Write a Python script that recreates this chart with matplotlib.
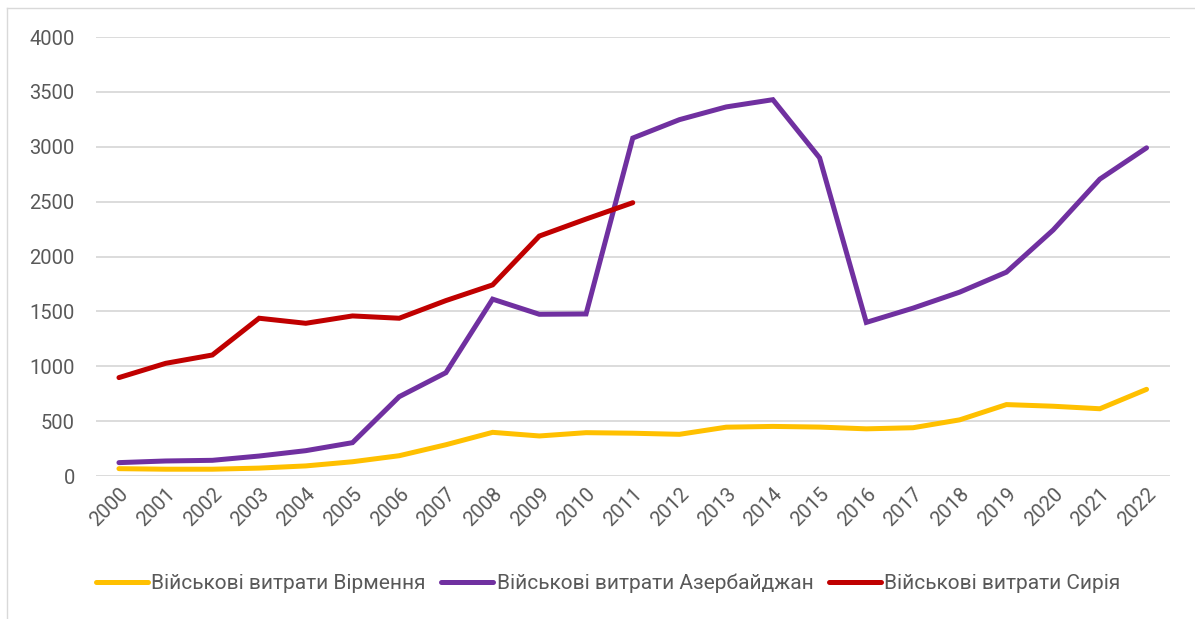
import matplotlib
matplotlib.use("Agg")
import matplotlib.pyplot as plt
from matplotlib.lines import Line2D

years = [str(y) for y in range(2000, 2023)]
armenia = [67, 62, 62, 72, 92, 130, 185, 285, 398, 365, 395, 390, 380, 445, 452, 446, 430, 440, 512, 651, 636, 613, 790]
azerbaijan = [122, 137, 143, 182, 231, 304, 723, 942, 1612, 1474, 1477, 3080, 3248, 3364, 3430, 2900, 1400, 1530, 1676, 1858, 2242, 2706, 2991]
syria = [897, 1027, 1103, 1438, 1392, 1459, 1438, 1599, 1742, 2187, 2342, 2491]
labels = ["Військові витрати Вірмення", "Військові витрати Азербайджан", "Військові витрати Сирія"]
yticks = [0, 500, 1000, 1500, 2000, 2500, 3000, 3500, 4000]

plt.rcParams['font.family'] = ['Roboto', 'DejaVu Sans']
W, H = 1195, 619
fig = plt.figure(figsize=(W / 100, H / 100), dpi=100)
ax = fig.add_axes([0.080, 0.231, 0.899, 0.709])

x = list(range(len(years)))
lw = 3.6
ax.plot(x, armenia, color='#FFC000', lw=lw, solid_capstyle='round', solid_joinstyle='miter', label=labels[0], zorder=3)
ax.plot(x, azerbaijan, color='#7030A0', lw=lw, solid_capstyle='round', solid_joinstyle='miter', label=labels[1], zorder=3)
ax.plot(x[:len(syria)], syria, color='#C00000', lw=lw, solid_capstyle='round', solid_joinstyle='miter', label=labels[2], zorder=3)

ax.set_xlim(-0.5, len(years) - 0.5)
ax.set_ylim(0, 4000)
ax.set_yticks(yticks)
ax.set_yticklabels([str(v) for v in yticks])
ax.set_xticks(x)
ax.set_xticklabels(years, rotation=45, ha='right', va='top', rotation_mode='anchor')
ax.tick_params(axis='both', length=0, colors='#595959', labelsize=14.5)
ax.tick_params(axis='y', pad=15)
ax.tick_params(axis='x', pad=6)
ax.grid(axis='y', color='#D9D9D9', lw=1.3)
ax.set_axisbelow(True)
for s in ax.spines.values():
    s.set_visible(False)

leg = fig.legend(loc='center', bbox_to_anchor=(0.509, 0.057), ncol=3, frameon=False,
                 fontsize=15, labelcolor='#595959', handlelength=2.5, handletextpad=0.15,
                 columnspacing=0.75)

# chart-area border (top and left edges visible)
fig.add_artist(Line2D([7 / W, 1.0], [1 - 8 / H, 1 - 8 / H], transform=fig.transFigure,
                      color='#D9D9D9', lw=1))
fig.add_artist(Line2D([7 / W, 7 / W], [0.0, 1 - 8 / H], transform=fig.transFigure,
                      color='#D9D9D9', lw=1))

fig.savefig('out.png', dpi=100)
